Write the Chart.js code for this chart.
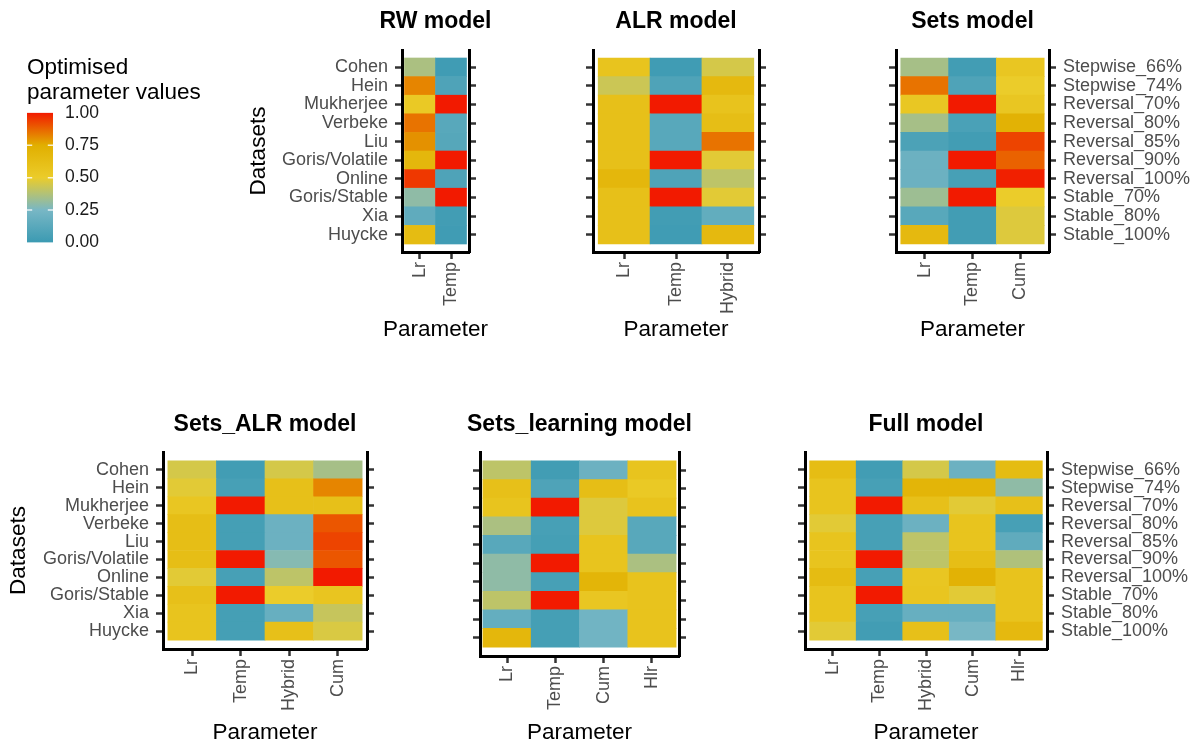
<!DOCTYPE html>
<html>
<head>
<meta charset="utf-8">
<script src="https://cdn.jsdelivr.net/npm/chart.js@4.4.0/dist/chart.umd.min.js"></script>
<style>
    body { margin: 0; background: #fff; width: 1199px; height: 746px; overflow: hidden; position: relative; }
    canvas { position: absolute; }
</style>
</head>
<body>
<canvas id="leyenda"></canvas>
<canvas id="rw"></canvas>
<canvas id="alr"></canvas>
<canvas id="sets"></canvas>
<canvas id="setsAlr"></canvas>
<canvas id="setsLearning"></canvas>
<canvas id="full"></canvas>
<script>
// Filas (de arriba a abajo)
const datasetsNombres = ['Cohen', 'Hein', 'Mukherjee', 'Verbeke', 'Liu', 'Goris/Volatile', 'Online', 'Goris/Stable', 'Xia', 'Huycke'];
const tareasNombres = ['Stepwise_66%', 'Stepwise_74%', 'Reversal_70%', 'Reversal_80%', 'Reversal_85%', 'Reversal_90%', 'Reversal_100%', 'Stable_70%', 'Stable_80%', 'Stable_100%'];

// Parámetros de cada modelo
const paramsRW = ['Lr', 'Temp'];
const paramsALR = ['Lr', 'Temp', 'Hybrid'];
const paramsSets = ['Lr', 'Temp', 'Cum'];
const paramsSetsALR = ['Lr', 'Temp', 'Hybrid', 'Cum'];
const paramsSetsLearning = ['Lr', 'Temp', 'Cum', 'Hlr'];
const paramsFull = ['Lr', 'Temp', 'Hybrid', 'Cum', 'Hlr'];

// Valores optimizados (una fila por dataset, una columna por parámetro)
const valoresRW = [
    [0.36, 0.02], [0.82, 0.08], [0.53, 1.00], [0.85, 0.12], [0.80, 0.11],
    [0.68, 1.00], [0.95, 0.08], [0.30, 1.00], [0.15, 0.03], [0.64, 0.02]
];
const valoresALR = [
    [0.57, 0.02, 0.45], [0.43, 0.08, 0.66], [0.60, 1.00, 0.58], [0.60, 0.12, 0.62], [0.60, 0.12, 0.85],
    [0.60, 1.00, 0.48], [0.68, 0.08, 0.40], [0.60, 1.00, 0.48], [0.60, 0.03, 0.16], [0.60, 0.02, 0.66]
];
const valoresSets = [
    [0.35, 0.03, 0.55], [0.85, 0.08, 0.50], [0.54, 1.00, 0.55], [0.35, 0.06, 0.72], [0.07, 0.03, 0.93],
    [0.20, 1.00, 0.88], [0.20, 0.05, 0.99], [0.33, 1.00, 0.50], [0.12, 0.03, 0.47], [0.66, 0.03, 0.47]
];
const valoresSetsALR = [
    [0.45, 0.03, 0.45, 0.35], [0.48, 0.05, 0.60, 0.82], [0.55, 1.00, 0.60, 0.60], [0.62, 0.04, 0.20, 0.90],
    [0.62, 0.04, 0.20, 0.93], [0.62, 1.00, 0.28, 0.90], [0.48, 0.05, 0.40, 1.00], [0.60, 1.00, 0.50, 0.56],
    [0.57, 0.04, 0.18, 0.42], [0.57, 0.04, 0.60, 0.46]
];
const valoresSetsLearning = [
    [0.40, 0.03, 0.20, 0.57], [0.60, 0.08, 0.62, 0.53], [0.57, 1.00, 0.47, 0.58], [0.36, 0.05, 0.47, 0.12],
    [0.12, 0.04, 0.57, 0.12], [0.30, 1.00, 0.57, 0.36], [0.30, 0.05, 0.70, 0.58], [0.40, 1.00, 0.55, 0.58],
    [0.17, 0.04, 0.22, 0.58], [0.68, 0.04, 0.22, 0.58]
];
const valoresFull = [
    [0.63, 0.03, 0.45, 0.20, 0.64], [0.57, 0.05, 0.70, 0.70, 0.30], [0.57, 1.00, 0.60, 0.48, 0.60],
    [0.48, 0.05, 0.20, 0.57, 0.05], [0.57, 0.05, 0.40, 0.57, 0.15], [0.57, 1.00, 0.40, 0.62, 0.37],
    [0.64, 0.05, 0.55, 0.72, 0.58], [0.57, 1.00, 0.56, 0.48, 0.58], [0.57, 0.05, 0.18, 0.18, 0.58],
    [0.48, 0.03, 0.60, 0.25, 0.66]
];

// Escala de colores (Zissou1) y ticks de la leyenda
const coloresEscala = ['#3B9AB2', '#78B7C5', '#EBCC2A', '#E1AF00', '#F21A00'];
const ticksLeyenda = [0, 0.25, 0.5, 0.75, 1];

const FUENTE = '"Liberation Sans", Arial, Helvetica, sans-serif';
Chart.defaults.font.family = FUENTE;
Chart.defaults.animation = false;
Chart.defaults.events = [];

function hexARgb(hex) {
    const n = parseInt(hex.slice(1), 16);
    return [(n >> 16) & 255, (n >> 8) & 255, n & 255];
}

function colorEscala(v) {
    const t = Math.max(0, Math.min(1, v)) * (coloresEscala.length - 1);
    const i = Math.min(Math.floor(t), coloresEscala.length - 2);
    const f = t - i;
    const a = hexARgb(coloresEscala[i]);
    const b = hexARgb(coloresEscala[i + 1]);
    const c = a.map((x, k) => Math.round(x + (b[k] - x) * f));
    return `rgb(${c[0]},${c[1]},${c[2]})`;
}

function colocarCanvas(canvas, left, top, w, h) {
    canvas.style.left = left + 'px';
    canvas.style.top = top + 'px';
    canvas.style.width = w + 'px';
    canvas.style.height = h + 'px';
    canvas.width = w;
    canvas.height = h;
}

// Título del panel y título del eje x, centrados sobre el área del gráfico
const titulosPanel = {
    id: 'titulosPanel',
    afterDraw(chart, args, opts) {
        const { ctx, chartArea: a } = chart;
        const cx = (a.left + a.right) / 2;
        ctx.save();
        ctx.fillStyle = '#000';
        ctx.textAlign = 'center';
        ctx.textBaseline = 'middle';
        ctx.font = `bold 23px ${FUENTE}`;
        ctx.fillText(opts.titulo, cx, a.top - opts.sepTitulo);
        ctx.font = `22.5px ${FUENTE}`;
        ctx.fillText('Parameter', cx, a.bottom + opts.sepEjeX);
        ctx.restore();
    }
};

function ejeFilas(posicion, filas, padY, ancho, etiquetas, conTitulo) {
    return {
        type: 'linear',
        position: posicion,
        min: -0.5 - padY,
        max: filas - 0.5 + padY,
        afterBuildTicks: s => { s.ticks = Array.from({ length: filas }, (_, k) => ({ value: k })); },
        afterFit: s => { s.width = ancho; },
        grid: { drawOnChartArea: false, drawTicks: true, offset: false, tickLength: 7, tickWidth: 2.5, tickColor: '#333' },
        border: { display: true, color: '#000', width: 3 },
        ticks: {
            autoSkip: false,
            padding: 7,
            color: '#4d4d4d',
            font: { size: 18 },
            callback: v => etiquetas ? etiquetas[filas - 1 - v] : ''
        },
        title: {
            display: conTitulo,
            text: 'Datasets',
            color: '#000',
            font: { size: 22.5 },
            padding: { top: 0, bottom: 0 }
        }
    };
}

function crearHeatmap(id, titulo, params, valores, caja) {
    const canvas = document.getElementById(id);
    const filas = valores.length;
    const n = params.length;
    const arriba = 50;
    const w = caja.izq + (caja.x2 - caja.x1) + caja.der;
    const h = arriba + (caja.y2 - caja.y1) + caja.abajo;
    colocarCanvas(canvas, caja.x1 - caja.izq, caja.y1 - arriba, w, h);

    const puntos = [];
    const colores = [];
    valores.forEach((fila, i) => {
        const k = filas - 1 - i;
        fila.forEach((v, j) => {
            puntos.push({ x: j, y: [k - 0.5, k + 0.5] });
            colores.push(colorEscala(v));
        });
    });

    new Chart(canvas.getContext('2d'), {
        type: 'bar',
        data: {
            datasets: [{
                data: puntos,
                backgroundColor: colores,
                borderWidth: 0,
                barPercentage: 1,
                categoryPercentage: 1
            }]
        },
        options: {
            responsive: false,
            layout: { padding: { top: arriba } },
            plugins: {
                legend: { display: false },
                tooltip: { enabled: false },
                title: { display: false },
                titulosPanel: { titulo: titulo, sepTitulo: caja.sepTitulo, sepEjeX: caja.sepEjeX }
            },
            scales: {
                x: {
                    type: 'linear',
                    position: 'bottom',
                    offset: false,
                    min: -0.5 - caja.padX,
                    max: n - 0.5 + caja.padX,
                    afterBuildTicks: s => { s.ticks = params.map((_, j) => ({ value: j })); },
                    afterFit: s => { s.height = caja.abajo; },
                    grid: { drawOnChartArea: false, drawTicks: true, offset: false, tickLength: 7, tickWidth: 2.5, tickColor: '#333' },
                    border: { display: true, color: '#000', width: 3 },
                    ticks: {
                        autoSkip: false,
                        minRotation: 90,
                        maxRotation: 90,
                        padding: 3,
                        color: '#4d4d4d',
                        font: { size: 18 },
                        callback: v => params[v]
                    },
                    title: { display: false }
                },
                y: ejeFilas('left', filas, caja.padY, caja.izq, caja.etiquetasIzq, !!caja.tituloY),
                y2: ejeFilas('right', filas, caja.padY, caja.der, caja.etiquetasDer, false)
            }
        },
        plugins: [titulosPanel]
    });
}

// Marcas blancas sobre la barra de color
const marcasBlancas = {
    id: 'marcasBlancas',
    afterDatasetsDraw(chart) {
        const { ctx, chartArea: a, scales: { y } } = chart;
        const largo = (a.right - a.left) / 5;
        ctx.save();
        ctx.strokeStyle = 'rgba(255,255,255,0.8)';
        ctx.lineWidth = 1.5;
        ticksLeyenda.slice(1, -1).forEach(v => {
            const py = y.getPixelForValue(v);
            ctx.beginPath();
            ctx.moveTo(a.left, py); ctx.lineTo(a.left + largo, py);
            ctx.moveTo(a.right - largo, py); ctx.lineTo(a.right, py);
            ctx.stroke();
        });
        ctx.restore();
    }
};

function crearLeyenda() {
    const canvas = document.getElementById('leyenda');
    colocarCanvas(canvas, 0, 50, 230, 215);
    new Chart(canvas.getContext('2d'), {
        type: 'bar',
        data: {
            labels: [''],
            datasets: [{
                data: [[ticksLeyenda[0], ticksLeyenda[ticksLeyenda.length - 1]]],
                barPercentage: 1,
                categoryPercentage: 1,
                borderWidth: 0,
                backgroundColor: (c) => {
                    const chart = c.chart;
                    if (!chart.chartArea) return coloresEscala[2];
                    const y = chart.scales.y;
                    const g = chart.ctx.createLinearGradient(0, y.getPixelForValue(0), 0, y.getPixelForValue(1));
                    coloresEscala.forEach((col, i) => g.addColorStop(i / (coloresEscala.length - 1), col));
                    return g;
                }
            }]
        },
        options: {
            responsive: false,
            layout: { padding: { left: 27, bottom: 14 } },
            plugins: {
                legend: { display: false },
                tooltip: { enabled: false },
                title: {
                    display: true,
                    text: ['Optimised', 'parameter values'],
                    align: 'start',
                    color: '#000',
                    font: { size: 22.5, weight: 'normal', lineHeight: 1.12 },
                    padding: { top: 5.4, bottom: 7 }
                }
            },
            scales: {
                x: { display: false },
                y: {
                    position: 'right',
                    min: 0,
                    max: 1,
                    afterBuildTicks: s => { s.ticks = ticksLeyenda.map(v => ({ value: v })); },
                    afterFit: s => { s.width = 177; },
                    grid: { display: false, drawTicks: false },
                    border: { display: false },
                    ticks: { padding: 12, color: '#1a1a1a', font: { size: 17.5 }, callback: v => v.toFixed(2) }
                }
            }
        },
        plugins: [marcasBlancas]
    });
}

document.addEventListener('DOMContentLoaded', function() {
    crearLeyenda();
    crearHeatmap('rw', 'RW model', paramsRW, valoresRW,
        { x1: 402, x2: 469, y1: 50, y2: 252, padX: 0.08, padY: 0.43, izq: 157, der: 24, abajo: 95,
          sepTitulo: 28, sepEjeX: 78, etiquetasIzq: datasetsNombres, tituloY: true });
    crearHeatmap('alr', 'ALR model', paramsALR, valoresALR,
        { x1: 593, x2: 759, y1: 50, y2: 252, padX: 0.1, padY: 0.43, izq: 24, der: 24, abajo: 95,
          sepTitulo: 28, sepEjeX: 78 });
    crearHeatmap('sets', 'Sets model', paramsSets, valoresSets,
        { x1: 896, x2: 1049, y1: 50, y2: 252, padX: 0.1, padY: 0.43, izq: 24, der: 150, abajo: 95,
          sepTitulo: 28, sepEjeX: 78, etiquetasDer: tareasNombres });
    crearHeatmap('setsAlr', 'Sets_ALR model', paramsSetsALR, valoresSetsALR,
        { x1: 163, x2: 367, y1: 452, y2: 649, padX: 0.1, padY: 0.5, izq: 158, der: 24, abajo: 95,
          sepTitulo: 27, sepEjeX: 84, etiquetasIzq: datasetsNombres, tituloY: true });
    crearHeatmap('setsLearning', 'Sets_learning model', paramsSetsLearning, valoresSetsLearning,
        { x1: 480, x2: 679, y1: 452, y2: 656, padX: 0.06, padY: 0.48, izq: 24, der: 24, abajo: 89,
          sepTitulo: 27, sepEjeX: 77 });
    crearHeatmap('full', 'Full model', paramsFull, valoresFull,
        { x1: 805, x2: 1047, y1: 452, y2: 649, padX: 0.1, padY: 0.5, izq: 24, der: 150, abajo: 95,
          sepTitulo: 27, sepEjeX: 84, etiquetasDer: tareasNombres });
});
</script>
</body>
</html>
